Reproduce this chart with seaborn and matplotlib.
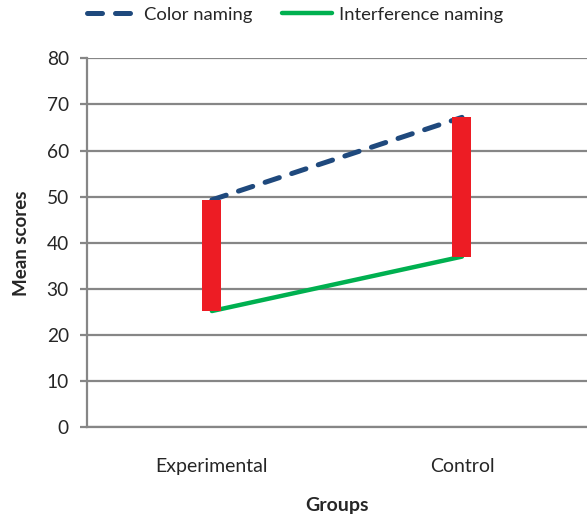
import matplotlib
matplotlib.use("Agg")
import matplotlib.pyplot as plt
import seaborn as sns
import pandas as pd

# values
groups = ["Experimental", "Control"]
color_naming = [49.3, 67.2]
interference_naming = [25.2, 37.0]

sns.set_theme(style="white")
plt.rcParams["font.family"] = ["Lato", "DejaVu Sans"]

df = pd.DataFrame({
    "Groups": groups * 2,
    "score": color_naming + interference_naming,
    "series": ["Color naming"] * 2 + ["Interference naming"] * 2,
})

fig = plt.figure(figsize=(5.87, 5.16), dpi=100)
ax = fig.add_axes([0.148, 0.172, 0.852, 0.715])

grey = "#868686"
ax.set_axisbelow(True)
ax.yaxis.grid(True, color=grey, lw=1.6)

sns.lineplot(data=df[df.series == "Color naming"], x="Groups", y="score",
             color="#1F497D", lw=3.6, ax=ax, label="Color naming",
             zorder=3)
sns.lineplot(data=df[df.series == "Interference naming"], x="Groups", y="score",
             color="#00B050", lw=3.2, ax=ax, label="Interference naming",
             zorder=3)
blue_line = ax.lines[0]
blue_line.set_dashes((3.0, 2.6))
blue_line.set_dash_capstyle("round")

# high-low bars between the two series
lows = [min(a, b) for a, b in zip(color_naming, interference_naming)]
highs = [max(a, b) for a, b in zip(color_naming, interference_naming)]
ax.bar(groups, [h - l for h, l in zip(highs, lows)], bottom=lows,
       width=0.076, color="#ED1C24", linewidth=0, zorder=4)

ax.set_xlim(-0.5, 1.5)
ax.set_ylim(0, 80)
ax.set_yticks(range(0, 81, 10))
ax.tick_params(axis="y", left=True, length=5, width=1.6, color=grey,
               labelsize=13.8, pad=8)
ax.tick_params(axis="x", bottom=False, labelsize=14, pad=16)
for s in ["top", "right"]:
    ax.spines[s].set_visible(False)
for s in ["left", "bottom"]:
    ax.spines[s].set_color(grey)
    ax.spines[s].set_linewidth(1.6)

ax.set_xlabel("Groups", fontsize=14, fontweight="bold", labelpad=16)
ax.set_ylabel("Mean scores", fontsize=13.5, fontweight="bold", labelpad=12)

handles, labels = ax.get_legend_handles_labels()
handles[0].set_dashes((3.0, 2.6))
handles[0].set_dash_capstyle("round")
ax.legend(handles, labels, loc="center left", bbox_to_anchor=(0.148, 0.971),
          bbox_transform=fig.transFigure, ncol=2, frameon=False,
          fontsize=13.3, handlelength=2.7, handletextpad=0.4,
          columnspacing=1.6, borderaxespad=0, borderpad=0)

fig.savefig("out.png", dpi=100)
